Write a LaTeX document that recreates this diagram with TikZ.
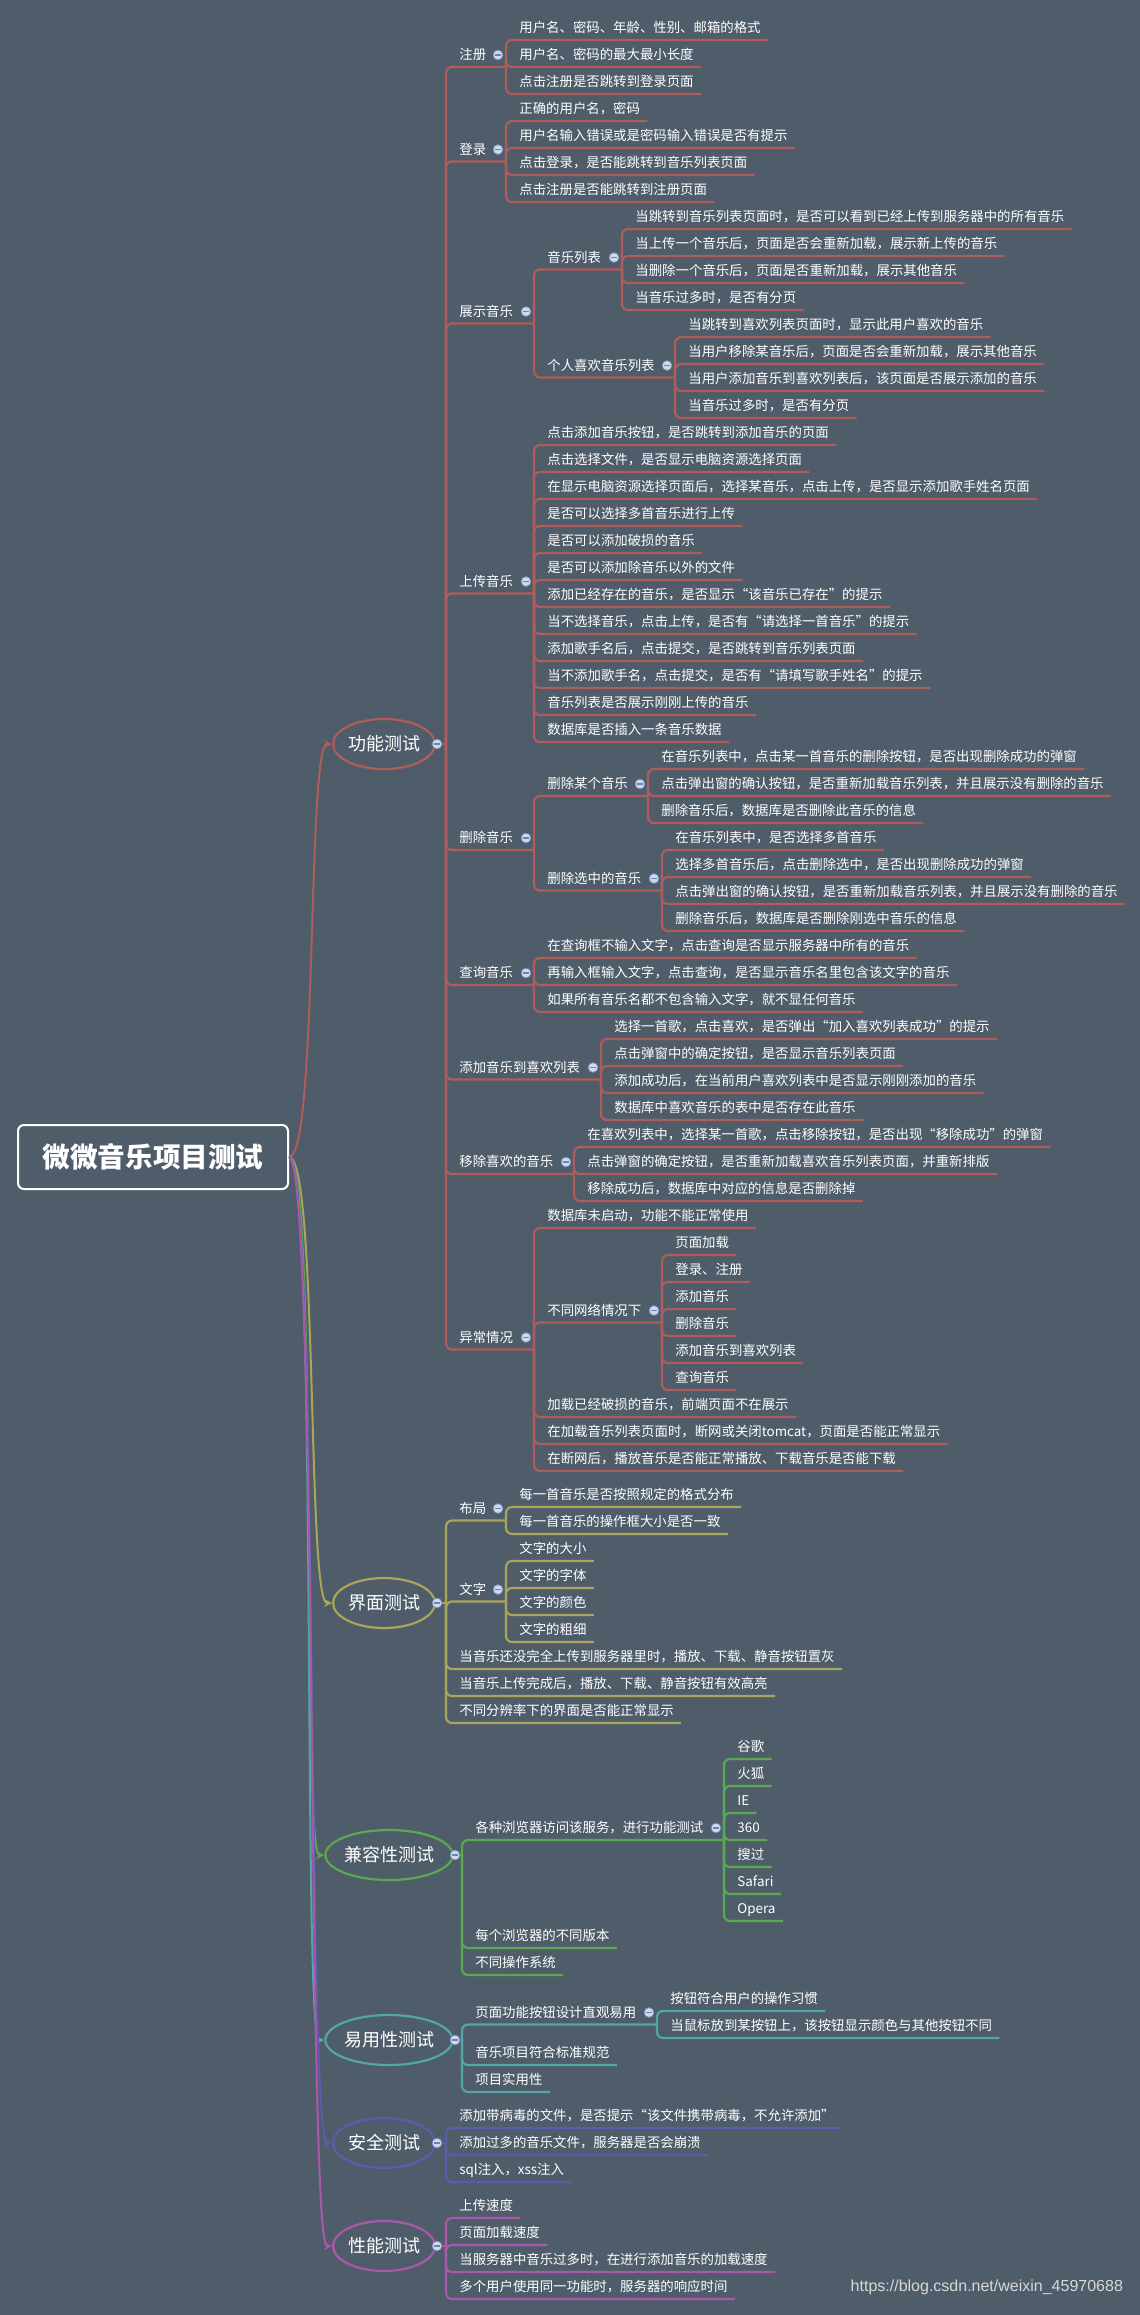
\documentclass[tikz,border=0pt]{standalone}
\usepackage{fontspec}
\setmainfont{Noto Sans CJK SC}
\newfontfamily\wmfont{Liberation Sans}
\usetikzlibrary{shapes.geometric,arrows.meta}

\definecolor{bgc}{RGB}{79,93,107}
\definecolor{redb}{RGB}{176,92,90}
\definecolor{olvb}{RGB}{170,165,88}
\definecolor{grnb}{RGB}{90,168,80}
\definecolor{tealb}{RGB}{82,166,164}
\definecolor{blub}{RGB}{92,92,172}
\definecolor{magb}{RGB}{172,86,172}
\definecolor{dotf}{RGB}{205,218,240}
\definecolor{dotd}{RGB}{110,130,170}
\definecolor{wmc}{RGB}{215,215,215}

\tikzset{
  leaf/.style={anchor=south west,inner xsep=3.5pt,inner ysep=0pt,text=white,
    font=\fontsize{6.7pt}{8pt}\selectfont,text height=6pt,text depth=3.5pt},
  brch/.style={line width=1.1pt,rounded corners=3pt},
  topic/.style={ellipse,draw,line width=1.1pt,fill=bgc,text=white,inner sep=0pt,
    font=\fontsize{9pt}{11pt}\selectfont,minimum width=48pt,minimum height=25pt},
  rootbox/.style={draw=white,line width=1pt,rounded corners=3pt,fill=bgc,text=white,
    font=\fontsize{13.8pt}{16pt}\selectfont\bfseries,minimum width=135pt,minimum height=32pt},
  trunk/.style={line width=1pt,-{Stealth[length=4pt,width=4pt]}},
  dotc/.style={circle,draw=dotd,fill=dotf,line width=0.4pt,minimum size=5pt,inner sep=0pt,
    path picture={\draw[dotd,line width=0.6pt] ([xshift=-1.4pt]path picture bounding box.center)
      -- ([xshift=1.4pt]path picture bounding box.center);}}
}

\begin{document}
\begin{tikzpicture}[x=0.5pt,y=-0.5pt]
\path[use as bounding box,fill=bgc] (0,0) rectangle (1140,2315);

\node[rootbox] (root) at (153,1157) {微微音乐项目测试};
\node[topic,draw=redb] (gongneng) at (384,744) {功能测试};
\node[topic,draw=olvb] (jiemian) at (384,1603) {界面测试};
\node[topic,draw=grnb,minimum width=60pt] (jianrong) at (389,1855) {兼容性测试};
\node[topic,draw=tealb,minimum width=60pt] (yiyong) at (389,2040) {易用性测试};
\node[topic,draw=blub] (anquan) at (384,2143) {安全测试};
\node[topic,draw=magb] (xingneng) at (384,2246) {性能测试};

\draw[trunk,redb] (root.east) .. controls (318,1157) and (307,744) .. (gongneng.west);
\draw[trunk,olvb] (root.east) .. controls (318,1157) and (307,1603) .. (jiemian.west);
\draw[trunk,grnb] (root.east) .. controls (318,1157) and (302,1855) .. (jianrong.west);
\draw[trunk,tealb] (root.east) .. controls (318,1157) and (302,2040) .. (yiyong.west);
\draw[trunk,blub] (root.east) .. controls (318,1157) and (307,2143) .. (anquan.west);
\draw[trunk,magb] (root.east) .. controls (318,1157) and (307,2246) .. (xingneng.west);

\coordinate (gongneng-j) at (446,744);
\coordinate (jiemian-j) at (446,1603);
\coordinate (jianrong-j) at (462,1855);
\coordinate (yiyong-j) at (462,2040);
\coordinate (anquan-j) at (446,2143);
\coordinate (xingneng-j) at (446,2246);
\foreach \n/\c in {gongneng/redb,jiemian/olvb,jianrong/grnb,yiyong/tealb,anquan/blub,xingneng/magb}
  \draw[brch,\c] (\n.east) -- (\n-j);

\node[leaf] (zhuce) at (452,67) {注册};
\coordinate (zhuce-j) at (506,67);
\node[leaf] (denglu) at (452,161.5) {登录};
\coordinate (denglu-j) at (506,161.5);
\node[leaf] (zhanshi) at (452,323.5) {展示音乐};
\coordinate (zhanshi-j) at (534,323.5);
\node[leaf] (yylb) at (540,269.5) {音乐列表};
\coordinate (yylb-j) at (622,269.5);
\node[leaf] (grxh) at (540,377.5) {个人喜欢音乐列表};
\coordinate (grxh-j) at (675,377.5);
\node[leaf] (shangchuan) at (452,593.5) {上传音乐};
\coordinate (shangchuan-j) at (534,593.5);
\node[leaf] (shanchu) at (452,850) {删除音乐};
\coordinate (shanchu-j) at (534,850);
\node[leaf] (scmg) at (540,796) {删除某个音乐};
\coordinate (scmg-j) at (648,796);
\node[leaf] (scxz) at (540,890.5) {删除选中的音乐};
\coordinate (scxz-j) at (662,890.5);
\node[leaf] (chaxun) at (452,985) {查询音乐};
\coordinate (chaxun-j) at (534,985);
\node[leaf] (tianjia) at (452,1079.5) {添加音乐到喜欢列表};
\coordinate (tianjia-j) at (601,1079.5);
\node[leaf] (yichu) at (452,1174) {移除喜欢的音乐};
\coordinate (yichu-j) at (574,1174);
\node[leaf] (yichang) at (452,1349.5) {异常情况};
\coordinate (yichang-j) at (534,1349.5);
\node[leaf] (btwl) at (540,1322.5) {不同网络情况下};
\coordinate (btwl-j) at (662,1322.5);
\foreach \p/\s in {gongneng/zhuce,gongneng/denglu,gongneng/zhanshi,zhanshi/yylb,zhanshi/grxh,
    gongneng/shangchuan,gongneng/shanchu,shanchu/scmg,shanchu/scxz,gongneng/chaxun,
    gongneng/tianjia,gongneng/yichu,gongneng/yichang,yichang/btwl}
  \draw[brch,redb] (\p-j) |- (\s-j);

\foreach \t [count=\i from 0] in {用户名、密码、年龄、性别、邮箱的格式,用户名、密码的最大最小长度,
    点击注册是否跳转到登录页面}{
  \node[leaf] (zc\i) at (512,40+27*\i) {\t};
  \draw[brch,redb] (zhuce-j) |- (zc\i.south east);}
\foreach \t [count=\i from 3] in {正确的用户名，密码,用户名输入错误或是密码输入错误是否有提示,
    点击登录，是否能跳转到音乐列表页面,点击注册是否能跳转到注册页面}{
  \node[leaf] (dl\i) at (512,40+27*\i) {\t};
  \draw[brch,redb] (denglu-j) |- (dl\i.south east);}
\foreach \t [count=\i from 7] in {当跳转到音乐列表页面时，是否可以看到已经上传到服务器中的所有音乐,
    当上传一个音乐后，页面是否会重新加载，展示新上传的音乐,当删除一个音乐后，页面是否重新加载，展示其他音乐,
    当音乐过多时，是否有分页}{
  \node[leaf] (yl\i) at (628,40+27*\i) {\t};
  \draw[brch,redb] (yylb-j) |- (yl\i.south east);}
\foreach \t [count=\i from 11] in {当跳转到喜欢列表页面时，显示此用户喜欢的音乐,
    当用户移除某音乐后，页面是否会重新加载，展示其他音乐,当用户添加音乐到喜欢列表后，该页面是否展示添加的音乐,
    当音乐过多时，是否有分页}{
  \node[leaf] (gx\i) at (681,40+27*\i) {\t};
  \draw[brch,redb] (grxh-j) |- (gx\i.south east);}
\foreach \t [count=\i from 15] in {点击添加音乐按钮，是否跳转到添加音乐的页面,点击选择文件，是否显示电脑资源选择页面,
    在显示电脑资源选择页面后，选择某音乐，点击上传，是否显示添加歌手姓名页面,是否可以选择多首音乐进行上传,
    是否可以添加破损的音乐,是否可以添加除音乐以外的文件,添加已经存在的音乐，是否显示“该音乐已存在”的提示,
    当不选择音乐，点击上传，是否有“请选择一首音乐”的提示,添加歌手名后，点击提交，是否跳转到音乐列表页面,
    当不添加歌手名，点击提交，是否有“请填写歌手姓名”的提示,音乐列表是否展示刚刚上传的音乐,
    数据库是否插入一条音乐数据}{
  \node[leaf] (sc\i) at (540,40+27*\i) {\t};
  \draw[brch,redb] (shangchuan-j) |- (sc\i.south east);}
\foreach \t [count=\i from 27] in {在音乐列表中，点击某一首音乐的删除按钮，是否出现删除成功的弹窗,
    点击弹出窗的确认按钮，是否重新加载音乐列表，并且展示没有删除的音乐,删除音乐后，数据库是否删除此音乐的信息}{
  \node[leaf] (mg\i) at (654,40+27*\i) {\t};
  \draw[brch,redb] (scmg-j) |- (mg\i.south east);}
\foreach \t [count=\i from 30] in {在音乐列表中，是否选择多首音乐,选择多首音乐后，点击删除选中，是否出现删除成功的弹窗,
    点击弹出窗的确认按钮，是否重新加载音乐列表，并且展示没有删除的音乐,删除音乐后，数据库是否删除刚选中音乐的信息}{
  \node[leaf] (xz\i) at (668,40+27*\i) {\t};
  \draw[brch,redb] (scxz-j) |- (xz\i.south east);}
\foreach \t [count=\i from 34] in {在查询框不输入文字，点击查询是否显示服务器中所有的音乐,
    再输入框输入文字，点击查询，是否显示音乐名里包含该文字的音乐,如果所有音乐名都不包含输入文字，就不显任何音乐}{
  \node[leaf] (cx\i) at (540,40+27*\i) {\t};
  \draw[brch,redb] (chaxun-j) |- (cx\i.south east);}
\foreach \t [count=\i from 37] in {选择一首歌，点击喜欢，是否弹出“加入喜欢列表成功”的提示,
    点击弹窗中的确定按钮，是否显示音乐列表页面,添加成功后，在当前用户喜欢列表中是否显示刚刚添加的音乐,
    数据库中喜欢音乐的表中是否存在此音乐}{
  \node[leaf] (tj\i) at (607,40+27*\i) {\t};
  \draw[brch,redb] (tianjia-j) |- (tj\i.south east);}
\foreach \t [count=\i from 41] in {在喜欢列表中，选择某一首歌，点击移除按钮，是否出现“移除成功”的弹窗,
    点击弹窗的确定按钮，是否重新加载喜欢音乐列表页面，并重新排版,移除成功后，数据库中对应的信息是否删除掉}{
  \node[leaf] (yc\i) at (580,40+27*\i) {\t};
  \draw[brch,redb] (yichu-j) |- (yc\i.south east);}
\foreach \i/\t in {44/数据库未启动，功能不能正常使用,51/加载已经破损的音乐，前端页面不在展示,
    52/在加载音乐列表页面时，断网或关闭tomcat，页面是否能正常显示,
    53/在断网后，播放音乐是否能正常播放、下载音乐是否能下载}{
  \node[leaf] (yq\i) at (540,40+27*\i) {\t};
  \draw[brch,redb] (yichang-j) |- (yq\i.south east);}
\foreach \t [count=\i from 45] in {页面加载,登录、注册,添加音乐,删除音乐,添加音乐到喜欢列表,查询音乐}{
  \node[leaf] (wl\i) at (668,40+27*\i) {\t};
  \draw[brch,redb] (btwl-j) |- (wl\i.south east);}

\node[leaf] (buju) at (452,1520.5) {布局};
\coordinate (buju-j) at (506,1520.5);
\node[leaf] (wenzi) at (452,1601.5) {文字};
\coordinate (wenzi-j) at (506,1601.5);
\draw[brch,olvb] (jiemian-j) |- (buju-j);
\draw[brch,olvb] (jiemian-j) |- (wenzi-j);
\foreach \t [count=\i from 0] in {每一首音乐是否按照规定的格式分布,每一首音乐的操作框大小是否一致}{
  \node[leaf] (bj\i) at (512,1507+27*\i) {\t};
  \draw[brch,olvb] (buju-j) |- (bj\i.south east);}
\foreach \t [count=\i from 2] in {文字的大小,文字的字体,文字的颜色,文字的粗细}{
  \node[leaf] (wz\i) at (512,1507+27*\i) {\t};
  \draw[brch,olvb] (wenzi-j) |- (wz\i.south east);}
\foreach \t [count=\i from 6] in {当音乐还没完全上传到服务器里时，播放、下载、静音按钮置灰,
    当音乐上传完成后，播放、下载、静音按钮有效高亮,不同分辨率下的界面是否能正常显示}{
  \node[leaf] (jm\i) at (452,1507+27*\i) {\t};
  \draw[brch,olvb] (jiemian-j) |- (jm\i.south east);}

\node[leaf] (llq) at (468,1840) {各种浏览器访问该服务，进行功能测试};
\coordinate (llq-j) at (724,1840);
\draw[brch,grnb] (jianrong-j) |- (llq-j);
\foreach \t [count=\i from 0] in {谷歌,火狐,IE,360,搜过,Safari,Opera}{
  \node[leaf] (lq\i) at (730,1759+27*\i) {\t};
  \draw[brch,grnb] (llq-j) |- (lq\i.south east);}
\foreach \t [count=\i from 7] in {每个浏览器的不同版本,不同操作系统}{
  \node[leaf] (jr\i) at (468,1759+27*\i) {\t};
  \draw[brch,grnb] (jianrong-j) |- (jr\i.south east);}

\node[leaf] (anniu) at (468,2024.5) {页面功能按钮设计直观易用};
\coordinate (anniu-j) at (657,2024.5);
\draw[brch,tealb] (yiyong-j) |- (anniu-j);
\foreach \t [count=\i from 0] in {按钮符合用户的操作习惯,当鼠标放到某按钮上，该按钮显示颜色与其他按钮不同}{
  \node[leaf] (an\i) at (663,2011+27*\i) {\t};
  \draw[brch,tealb] (anniu-j) |- (an\i.south east);}
\foreach \t [count=\i from 2] in {音乐项目符合标准规范,项目实用性}{
  \node[leaf] (yy\i) at (468,2011+27*\i) {\t};
  \draw[brch,tealb] (yiyong-j) |- (yy\i.south east);}

\foreach \t [count=\i from 0] in {添加带病毒的文件，是否提示“该文件携带病毒，不允许添加”,
    添加过多的音乐文件，服务器是否会崩溃,sql注入，xss注入}{
  \node[leaf] (aq\i) at (452,2128+27*\i) {\t};
  \draw[brch,blub] (anquan-j) |- (aq\i.south east);}
\foreach \t [count=\i from 0] in {上传速度,页面加载速度,当服务器中音乐过多时，在进行添加音乐的加载速度,
    多个用户使用同一功能时，服务器的响应时间}{
  \node[leaf] (xn\i) at (452,2218+27*\i) {\t};
  \draw[brch,magb] (xingneng-j) |- (xn\i.south east);}

\foreach \n/\x/\y in {gongneng/437/744,jiemian/437/1603,jianrong/455/1855,yiyong/455/2040,
    anquan/437/2143,xingneng/437/2246,zhuce/498/55,denglu/498/149.5,zhanshi/526/311.5,
    yylb/614/257.5,grxh/667/365.5,shangchuan/526/581.5,shanchu/526/838,scmg/640/784,
    scxz/654/878.5,chaxun/526/973,tianjia/593/1067.5,yichu/566/1162,yichang/526/1337.5,
    btwl/654/1310.5,buju/498/1508.5,wenzi/498/1589.5,llq/716/1828,anniu/649/2012.5}
  \node[dotc] (\n-d) at (\x,\y) {};

\node[anchor=east,text=wmc,font=\wmfont\fontsize{8pt}{9.6pt}\selectfont] (wm) at (1130,2287)
  {https://blog.csdn.net/weixin\_45970688};
\end{tikzpicture}
\end{document}
